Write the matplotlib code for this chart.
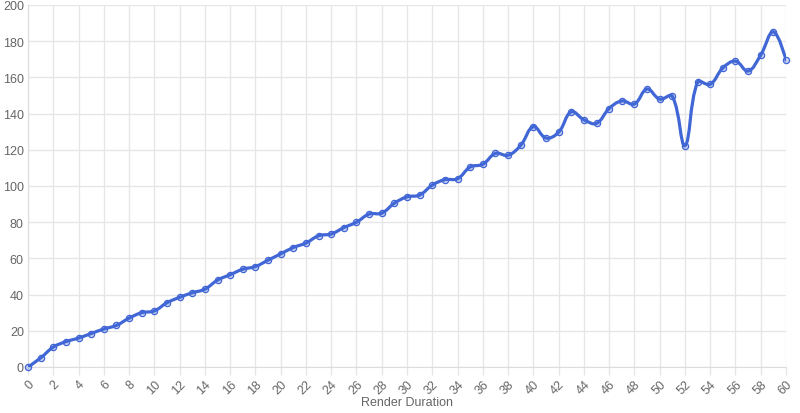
import numpy as np
import matplotlib
matplotlib.use('Agg')
import matplotlib.pyplot as plt
from matplotlib.path import Path
from matplotlib.patches import PathPatch

# render duration samples
frames = list(range(61))
durations = [0, 5, 11, 14, 16, 18.5, 21, 23, 27, 30,
             31, 35.5, 38.5, 41, 43, 48, 51, 54, 55.5, 59,
             62.5, 66, 68.5, 72.5, 73.5, 77, 80, 84.5, 85, 90.5,
             94, 95, 100.5, 103.5, 104, 110.5, 112, 118, 117, 122.5,
             132.8, 126.5, 129.7, 141, 136.6, 134.6, 142.8, 147, 145.3, 153.6,
             148, 149.6, 122.3, 157.3, 156.2, 165.2, 169, 163.5, 172.4, 185.2,
             169.6]
xticks = list(range(0, 61, 2))
yticks = list(range(0, 201, 20))

line_color = '#4166d5'
grid_color = '#e6e6e6'
text_color = '#666666'
plt.rcParams['font.family'] = ['Liberation Sans', 'DejaVu Sans']

fig = plt.figure(figsize=(8, 4.14), dpi=100)
ax = fig.add_axes([28 / 800, 1 - 368 / 414, 758 / 800, 362 / 414])
ax.set_xlim(0, 60)
ax.set_ylim(0, 200)
ax.set_xticks(xticks)
ax.set_yticks(yticks)
ax.set_xticklabels([str(t) for t in xticks], rotation=45, ha='right',
                   rotation_mode='anchor', fontsize=9, color=text_color)
ax.set_yticklabels([str(t) for t in yticks], fontsize=9, color=text_color)
ax.grid(True, color=grid_color, linewidth=1)
ax.set_axisbelow(True)
ax.tick_params(axis='x', length=6, width=1, color=grid_color, pad=2)
ax.tick_params(axis='y', length=0, pad=3)
for side in ['top', 'right']:
    ax.spines[side].set_visible(False)
for side in ['left', 'bottom']:
    ax.spines[side].set_color('#dcdcdc')
ax.set_xlabel('Render Duration', fontsize=9, color=text_color, labelpad=0)

# smooth curve (bezier with tension 0.4), built in display space
fig.canvas.draw()
pts = ax.transData.transform(np.column_stack([frames, durations]))
t = 0.4
n = len(pts)
cp_prev = pts.copy()
cp_next = pts.copy()
for i in range(1, n - 1):
    p, c, nx = pts[i - 1], pts[i], pts[i + 1]
    d01 = np.hypot(*(c - p))
    d12 = np.hypot(*(nx - c))
    s = d01 + d12
    fa = t * d01 / s
    fb = t * d12 / s
    cp_prev[i] = c - fa * (nx - p)
    cp_next[i] = c + fb * (nx - p)
verts = [pts[0]]
codes = [Path.MOVETO]
for i in range(n - 1):
    verts += [cp_next[i], cp_prev[i + 1], pts[i + 1]]
    codes += [Path.CURVE4] * 3
verts = ax.transData.inverted().transform(np.array(verts))
ax.add_patch(PathPatch(Path(verts, codes), fill=False, edgecolor=line_color,
                       linewidth=2.3, capstyle='round', joinstyle='round',
                       zorder=3))
ax.plot(frames, durations, linestyle='none', marker='o', markersize=4.5,
        markerfacecolor=(0.26, 0.4, 0.84, 0.3), markeredgecolor=line_color,
        markeredgewidth=0.9, zorder=4, clip_on=False)

plt.savefig('out.png', dpi=100)
